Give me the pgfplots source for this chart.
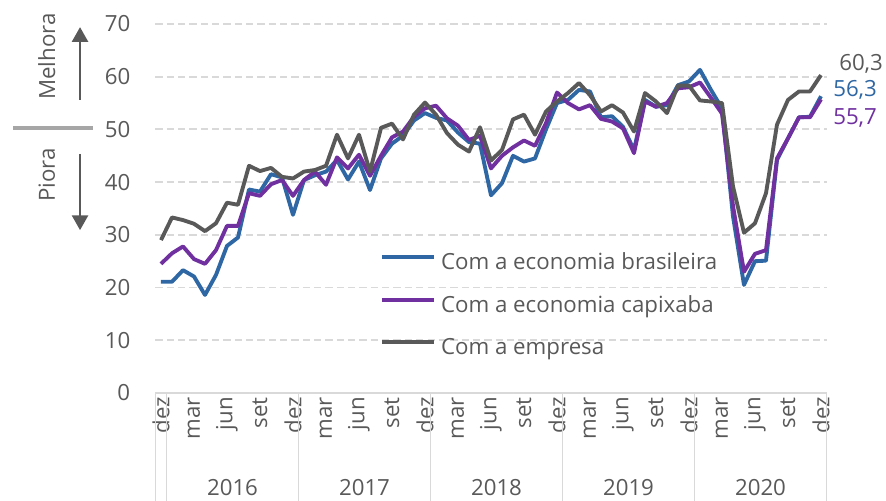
\documentclass[border=0pt]{standalone}
\usepackage{pgfplots}
\pgfplotsset{compat=1.18}
\usepackage{pgfplotstable}
\usepackage{fontspec}
\setmainfont{Open Sans}
\usetikzlibrary{arrows.meta}

\definecolor{cblue}{RGB}{46,103,164}
\definecolor{cpurple}{RGB}{112,48,160}
\definecolor{cgrey}{RGB}{89,89,89}
\definecolor{ctext}{RGB}{89,89,89}
\definecolor{cgrid}{RGB}{217,217,217}
\definecolor{cbar}{RGB}{166,166,166}

\newcommand{\lbl}{\fontsize{16.7pt}{19.5pt}\selectfont}

\pgfplotstableread{
i G B P
0 29.0 21.1 24.5
1 33.3 21.1 26.5
2 32.8 23.3 27.8
3 32.1 22.1 25.4
4 30.7 18.6 24.5
5 32.2 22.4 27.1
6 36.1 27.9 31.7
7 35.7 29.5 31.7
8 43.1 38.6 37.9
9 42.1 38.2 37.4
10 42.7 41.5 39.6
11 41.0 40.9 40.4
12 40.7 33.8 37.4
13 42.0 40.4 40.4
14 42.3 41.3 42.0
15 43.1 42.0 39.5
16 49.0 44.2 44.7
17 44.5 40.5 42.6
18 49.0 43.9 45.2
19 42.0 38.5 41.2
20 50.3 44.5 45.0
21 51.1 47.3 48.5
22 48.1 48.8 49.6
23 52.8 51.7 52.4
24 55.1 53.1 54.0
25 52.8 52.2 54.5
26 49.3 51.7 52.1
27 47.1 49.4 50.7
28 45.8 47.6 48.0
29 50.4 47.3 48.8
30 44.1 37.5 42.6
31 46.1 39.8 45.0
32 51.9 45.0 46.6
33 52.8 43.9 47.9
34 49.0 44.5 46.9
35 53.4 50.0 51.2
36 55.3 55.0 57.0
37 56.9 55.6 55.0
38 58.8 57.5 53.8
39 56.5 57.2 54.6
40 53.4 52.3 52.0
41 54.6 52.5 51.5
42 53.2 50.5 50.2
43 49.6 46.1 45.5
44 56.9 55.6 55.3
45 55.3 54.3 54.3
46 53.1 54.6 55.0
47 58.3 58.4 57.8
48 58.3 59.1 58.0
49 55.5 61.3 58.9
50 55.3 57.5 56.0
51 55.0 54.0 53.0
52 39.2 33.5 35.5
53 30.4 20.5 23.0
54 32.2 25.0 26.4
55 37.9 25.1 27.1
56 50.9 44.2 44.5
57 55.6 48.3 48.3
58 57.2 52.3 52.3
59 57.2 52.4 52.3
60 60.3 56.3 55.7
}\data

\begin{document}
\begin{tikzpicture}
\begin{axis}[
  scale only axis, width=503.25pt, height=276.75pt,
  xmin=-0.5, xmax=60.5, ymin=0, ymax=70,
  axis line style={draw=none},
  ytick={0,10,...,70},
  ymajorgrids,
  grid style={cgrid, line width=1.4pt, dash pattern=on 5.5pt off 3pt},
  xtick={0,3,...,60},
  xticklabels={dez,mar,jun,set,dez,mar,jun,set,dez,mar,jun,set,dez,mar,jun,set,dez,mar,jun,set,dez},
  tick style={draw=none},
  major tick length=0pt,
  /pgf/number format/assume math mode=true,
  ticklabel style={font=\lbl, text=ctext},
  yticklabel style={anchor=east, inner sep=0pt, xshift=-18.75pt},
  xticklabel style={yshift=-3pt, rotate=90, anchor=east, inner sep=0pt},
  clip=false,
  legend cell align=left,
  legend image code/.code={\draw[#1] (0pt,5.5pt) -- (39pt,5.5pt);},
  legend style={at={(axis cs:19.9,16.3)}, anchor=west, draw=none, fill=none,
    inner sep=0pt, outer sep=0pt, font=\lbl, text=ctext, row sep=16.4pt, column sep=4pt,
    nodes={inner sep=0pt, text height=11.5pt, text depth=4pt}},
]
\coordinate (bl) at (rel axis cs:0,0);
\coordinate (tr) at (rel axis cs:1,1);
\draw[cgrid, line width=1pt] (rel axis cs:0,0) -- (rel axis cs:1,0);
\draw[cgrid, line width=0.9pt] (axis cs:-0.5,0) -- ++(0pt,-81pt);
\draw[cgrid, line width=0.9pt] (axis cs:0.5,0) -- ++(0pt,-81pt);
\draw[cgrid, line width=0.9pt] (axis cs:12.5,0) -- ++(0pt,-81pt);
\draw[cgrid, line width=0.9pt] (axis cs:24.5,0) -- ++(0pt,-81pt);
\draw[cgrid, line width=0.9pt] (axis cs:36.5,0) -- ++(0pt,-81pt);
\draw[cgrid, line width=0.9pt] (axis cs:48.5,0) -- ++(0pt,-81pt);
\draw[cgrid, line width=0.9pt] (axis cs:60.5,0) -- ++(0pt,-81pt);

\addplot[cblue, line width=2.9pt, line join=round] table[x=i,y=B]{\data};
\addlegendentry{Com a economia brasileira}
\addplot[cpurple, line width=2.9pt, line join=round] table[x=i,y=P]{\data};
\addlegendentry{Com a economia capixaba}
\addplot[cgrey, line width=2.9pt, line join=round] table[x=i,y=G]{\data};
\addlegendentry{Com a empresa}

\node[anchor=west, text=cgrey, font=\lbl, inner sep=0pt] at (axis cs:60,60.3) [xshift=13.5pt, yshift=8.7pt] {60,3};
\node[anchor=west, text=cblue, font=\lbl, inner sep=0pt] at (axis cs:60,56.3) [xshift=9pt, yshift=4.7pt] {56,3};
\node[anchor=west, text=cpurple, font=\lbl, inner sep=0pt] at (axis cs:60,55.7) [xshift=9pt, yshift=-13.9pt] {55,7};

\node[text=ctext, font=\lbl] at (axis cs:6.5,0) [yshift=-71.25pt] {2016};
\node[text=ctext, font=\lbl] at (axis cs:18.5,0) [yshift=-71.25pt] {2017};
\node[text=ctext, font=\lbl] at (axis cs:30.5,0) [yshift=-71.25pt] {2018};
\node[text=ctext, font=\lbl] at (axis cs:42.5,0) [yshift=-71.25pt] {2019};
\node[text=ctext, font=\lbl] at (axis cs:54.5,0) [yshift=-71.25pt] {2020};

\draw[cbar, line width=3pt] (axis cs:-13.45,50.3) -- (axis cs:-6.18,50.3);
\draw[cgrey, line width=1.7pt, -{Triangle[length=11pt,width=12pt]}] (axis cs:-7.36,55.6) -- (axis cs:-7.36,69.4);
\draw[cgrey, line width=1.7pt, -{Triangle[length=11pt,width=12pt]}] (axis cs:-7.36,45.35) -- (axis cs:-7.36,30.9);
\node[rotate=90, text=ctext, font=\lbl] at (axis cs:-10.39,63.8) {Melhora};
\node[rotate=90, text=ctext, font=\lbl] at (axis cs:-10.39,41.4) {Piora};
\end{axis}
\pgfresetboundingbox
\path[use as bounding box] ([xshift=-116.625pt, yshift=-81pt]bl) rectangle ([xshift=44.625pt, yshift=18pt]tr);
\end{tikzpicture}
\end{document}
